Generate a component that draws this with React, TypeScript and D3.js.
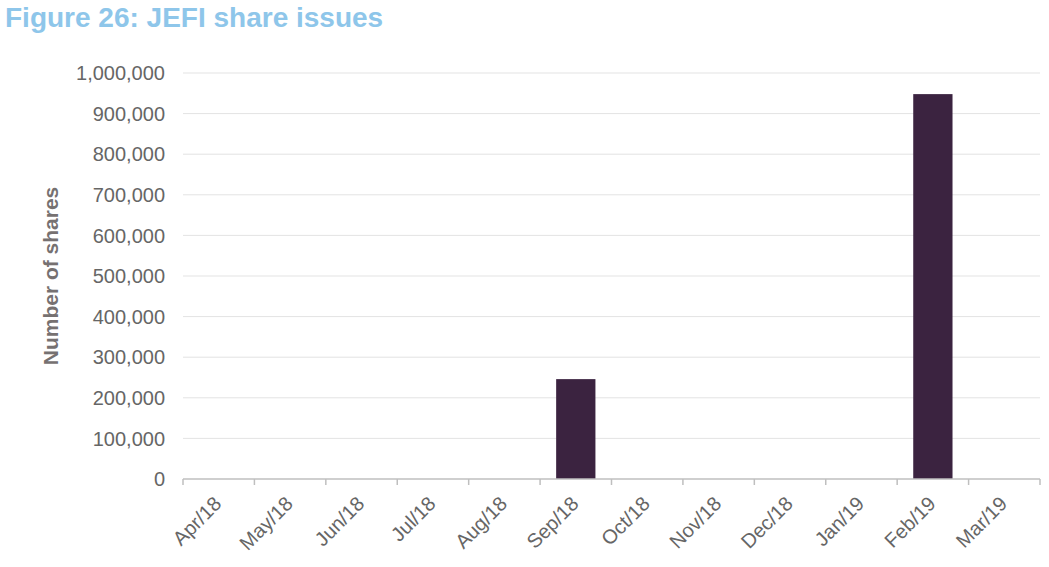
import React from "react";
import * as d3 from "d3";

const categories = ["Apr/18", "May/18", "Jun/18", "Jul/18", "Aug/18", "Sep/18", "Oct/18", "Nov/18", "Dec/18", "Jan/19", "Feb/19", "Mar/19"];
const shares = [0, 0, 0, 0, 0, 246000, 0, 0, 0, 0, 948000, 0];
const yTicks = [0, 100000, 200000, 300000, 400000, 500000, 600000, 700000, 800000, 900000, 1000000];
const title = "Figure 26: JEFI share issues";
const yTitle = "Number of shares";

const W = 1049;
const H = 567;
const left = 183;
const right = 1040;
const top = 73;
const bottom = 479;

export default function App() {
  const x = d3.scaleBand<string>().domain(categories).range([left, right]).paddingInner(0.45).paddingOuter(0.225);
  const xb = d3.scaleBand<string>().domain(categories).range([left, right]).padding(0);
  const y = d3.scaleLinear().domain([0, 1000000]).range([bottom, top]);
  const fmt = d3.format(",");
  const font = "Arial, 'Liberation Sans', Helvetica, sans-serif";
  const textColor = "#666666";

  return (
    <svg width={W} height={H} style={{ position: "absolute", left: 0, top: 0, fontFamily: font }}>
      <rect x={0} y={0} width={W} height={H} fill="#ffffff" />
      <text x={5} y={27} fill="#8ec6ea" fontSize={28} fontWeight="bold">{title}</text>
      {yTicks.filter((t) => t > 0).map((t) => (
        <line key={"g" + t} x1={left} x2={right} y1={y(t)} y2={y(t)} stroke="#e3e3e3" strokeWidth={1} />
      ))}
      {yTicks.map((t) => (
        <text key={"yt" + t} x={165} y={y(t)} dy="0.36em" textAnchor="end" fontSize={20} fill={textColor}>{fmt(t)}</text>
      ))}
      <text transform={`translate(58,276) rotate(-90)`} textAnchor="middle" fontSize={21} fontWeight="bold" fill="#767171">{yTitle}</text>
      {categories.map((c, i) => (
        <rect key={"b" + c} x={x(c)} y={y(shares[i])} width={x.bandwidth()} height={bottom - y(shares[i])} fill="#3b2340" />
      ))}
      <line x1={left} x2={right} y1={bottom} y2={bottom} stroke="#bfbfbf" strokeWidth={1.5} />
      {categories.concat(["end"]).map((c, i) => {
        const px = i < categories.length ? (xb(c) as number) : right;
        return <line key={"t" + i} x1={px} x2={px} y1={bottom} y2={bottom + 6} stroke="#bfbfbf" strokeWidth={1.5} />;
      })}
      {categories.map((c) => {
        const cx = (xb(c) as number) + xb.bandwidth() / 2;
        return (
          <text key={"xl" + c} transform={`translate(${cx + 4},${505}) rotate(-45)`} textAnchor="end" fontSize={20} fill={textColor}>{c}</text>
        );
      })}
    </svg>
  );
}
